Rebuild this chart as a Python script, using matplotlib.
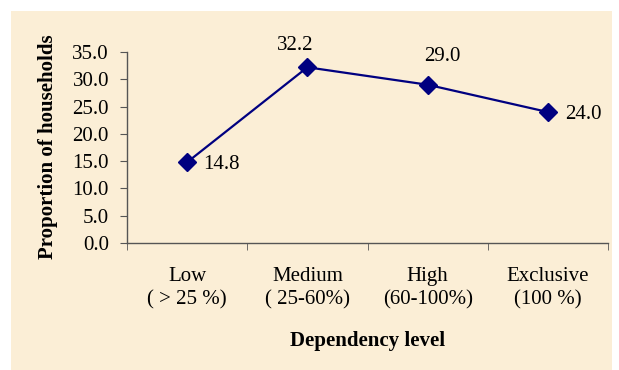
import numpy as np
import matplotlib.pyplot as plt
from matplotlib.patches import Rectangle

plt.rcParams['font.family'] = ['Liberation Serif', 'DejaVu Serif']

# data
levels = ["Low\n( > 25 %)", "Medium\n( 25-60%)", "High\n(60-100%)", "Exclusive\n(100 %)"]
shares = [14.8, 32.2, 29.0, 24.0]
yticks = [0, 5, 10, 15, 20, 25, 30, 35]

fig = plt.figure(figsize=(6.19, 3.70), dpi=100)
fig.patch.set_facecolor("white")

# parchment panel behind the chart
fig.patches.append(Rectangle((11 / 619, 0), 601 / 619, 359 / 370,
                             transform=fig.transFigure,
                             facecolor="#FBEED6", edgecolor="none", zorder=-10))

ax = fig.add_axes([127 / 619, 127 / 370, 481 / 619, 191 / 370])
ax.set_facecolor("none")

x = np.arange(len(levels))
ax.plot(x, shares, color="#000080", linewidth=1.6, marker="D",
        markersize=9, clip_on=False, zorder=3)

# value labels (pixel offsets from the point, text baseline)
offsets = [(16, -7, "left"), (-12, 17, "center"),
           (15, 24, "center"), (17, -7, "left")]
for xi, v, (dx, dy, ha) in zip(x, shares, offsets):
    ax.annotate(f"{v:.1f}", (xi, v), xytext=(dx, dy), textcoords="offset pixels",
                ha=ha, va="baseline", fontsize=15)

ax.set_xlim(-0.5, len(levels) - 0.5)
ax.set_ylim(0, 35)
ax.set_yticks(yticks)
ax.set_yticklabels([f"{t:.1f}" for t in yticks], fontsize=15)

ax.set_xticks(x)
ax.set_xticklabels(levels, fontsize=15, linespacing=1.27)
ax.set_xticks(np.arange(-0.5, len(levels)), minor=True)
ax.tick_params(axis="x", which="major", length=0, pad=17.5)
ax.tick_params(axis="x", which="minor", length=5, color="#555555")
ax.tick_params(axis="y", length=5, color="#555555", pad=8)

for s in ["top", "right"]:
    ax.spines[s].set_visible(False)
for s in ["left", "bottom"]:
    ax.spines[s].set_color("#555555")
    ax.spines[s].set_linewidth(1.0)

ax.set_xlabel("Dependency level", fontsize=15, fontweight="bold")
ax.xaxis.set_label_coords(0.5, -0.46)
fig.text(48 / 619, 1 - 146.5 / 370, "Proportion of households", rotation=90,
         ha="center", va="center", fontsize=15, fontweight="bold")

fig.savefig("out.png", dpi=100)
